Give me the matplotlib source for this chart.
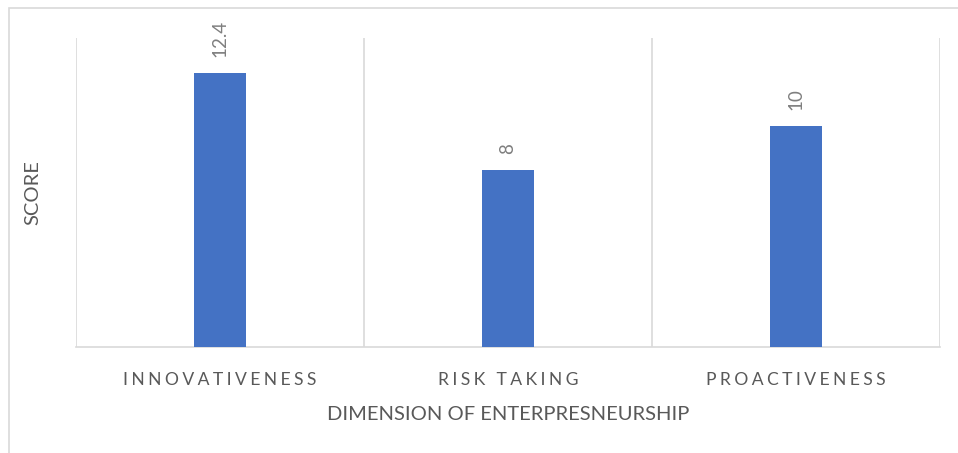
import matplotlib.pyplot as plt
from matplotlib.patches import Rectangle

categories = ["INNOVATIVENESS", "RISK TAKING", "PROACTIVENESS"]
scores = [12.4, 8, 10]
value_labels = ["12.4", "8", "10"]

plt.rcParams['font.family'] = ['Lato', 'DejaVu Sans']

fig = plt.figure(figsize=(9.58, 4.53), dpi=100)
ax = fig.add_axes([76 / 958, 1 - 347 / 453, (940 - 76) / 958, (347 - 38) / 453])

# outer chart frame
fig.patches.append(Rectangle((9 / 958, -0.05), 1.1, 0.05 + (453 - 8) / 453,
                             transform=fig.transFigure, fill=False,
                             edgecolor='#d9d9d9', linewidth=1.2))

x = range(len(categories))
ax.bar(x, scores, width=0.18, color='#4472C4', zorder=3)

for xi, v, lab in zip(x, scores, value_labels):
    ax.text(xi, v + 0.75, lab, rotation=90, ha='center', va='bottom',
            fontsize=13.5, color='#7f7f7f')

ax.set_xlim(-0.5, 2.5)
ax.set_ylim(0, 14)
ax.set_yticks([])
ax.set_xticks(list(x))
# letter-spaced category labels
ax.set_xticklabels(["\u2009\u200a".join(c) for c in categories], fontsize=12.6, color='#595959')
ax.tick_params(axis='x', length=0, pad=18)
ax.set_xticks([-0.5, 0.5, 1.5, 2.5], minor=True)
ax.tick_params(axis='x', which='minor', length=0)
ax.grid(axis='x', which='minor', color='#d9d9d9', linewidth=1.2, zorder=0)

for s in ['top', 'left', 'right']:
    ax.spines[s].set_visible(False)
ax.spines['bottom'].set_color('#d9d9d9')
ax.spines['bottom'].set_linewidth(1.2)

ax.set_xlabel("DIMENSION OF ENTERPRESNEURSHIP", fontsize=14.5, color='#595959', labelpad=13)
ax.set_ylabel("SCORE", fontsize=14.5, color='#595959', labelpad=25)

fig.savefig("out.png", dpi=100)
